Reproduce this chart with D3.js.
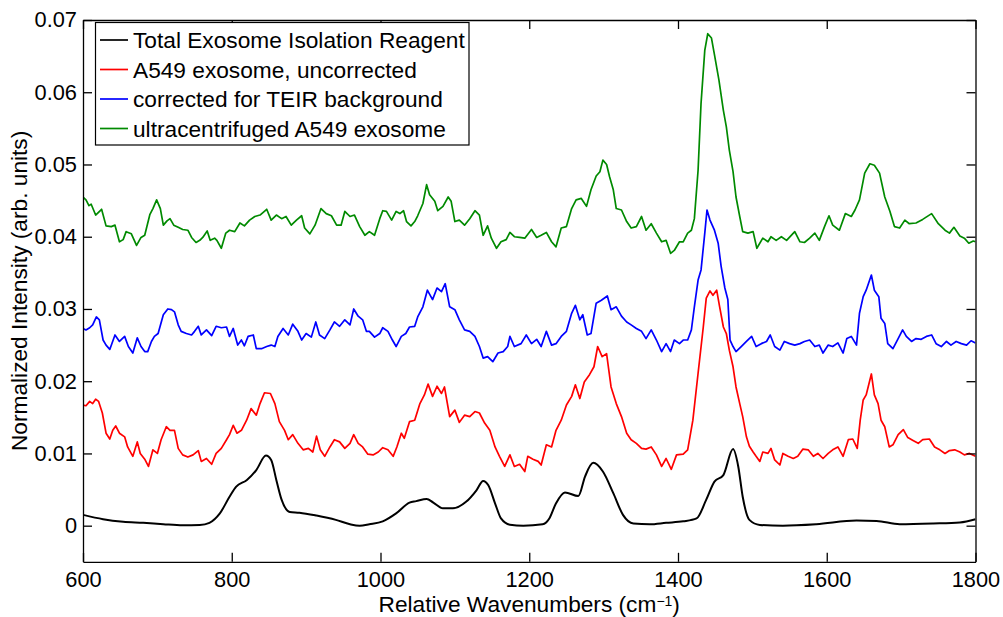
<!DOCTYPE html>
<html>
<head>
<meta charset="utf-8">
<script src="https://cdn.jsdelivr.net/npm/d3@7"></script>
<style>
  body { margin: 0; background: #fff; }
  text { font-family: "Liberation Sans", Arial, Helvetica, sans-serif; }
  .axis text { font-size: 21.8px; fill: #000; }
  .axis path, .axis line { stroke: #000; stroke-width: 1.3; }
</style>
</head>
<body>
<div id="container"></div>
<script>

/* CONSTANTS AND GLOBALS */
const width = 1003,
  height = 617,
  margin = {top: 20, bottom: 55.2, left: 83, right: 27.5},
  tickLen = 9,
  labelSize = "22.7px";

/* DATA : [wavenumber (cm-1), normalized intensity] */
const xTicks = [600, 800, 1000, 1200, 1400, 1600, 1800];
const yTicks = [0, 0.01, 0.02, 0.03, 0.04, 0.05, 0.06, 0.07];
const seriesNames = ["Total Exosome Isolation Reagent", "A549 exosome, uncorrected",
  "corrected for TEIR background", "ultracentrifuged A549 exosome"];
const seriesColors = ["#000000", "#ff0000", "#0000ff", "#008a00"];

const teir = [[600,0.0015],[627,0.0009],[654,0.00055],[681,0.0004],[708,0.0002],[734,0.00005],[757,0.0001],[770,0.0004],[784,0.0017],[797,0.004],[806,0.0054],[820,0.0063],[833,0.0077],[846,0.0097],[853,0.0091],[860,0.0063],[867,0.0036],[878,0.0019],[891,0.0018],[914,0.0014],[940,0.0008],[959,0.0002],[972,0.0],[985,0.0002],[1003,0.0006],[1021,0.0017],[1039,0.0032],[1048,0.0034],[1062,0.0037],[1071,0.0032],[1084,0.0024],[1097,0.0024],[1115,0.0033],[1129,0.0049],[1138,0.0062],[1145,0.0056],[1154,0.0031],[1162,0.001],[1174,0.00014],[1192,0],[1218,0.0002],[1227,0.001],[1236,0.0031],[1248,0.0046],[1266,0.0041],[1275,0.0068],[1286,0.0087],[1299,0.0075],[1313,0.0045],[1326,0.0015],[1340,0.0003],[1362,0.0002],[1384,0.0004],[1407,0.0006],[1425,0.001],[1438,0.0036],[1449,0.0061],[1461,0.007],[1474,0.0106],[1481,0.0082],[1487,0.004],[1496,0.0008],[1510,0.0001],[1541,0],[1586,0.0002],[1640,0.0007],[1667,0.00065],[1698,0.0002],[1743,0.0003],[1779,0.00045],[1800,0.0009]];

const uncorrected = [[600,0.0167],[604,0.0166],[609,0.0172],[613,0.0169],[617,0.0175],[621,0.0172],[626,0.0156],[631,0.0128],[636,0.012],[640,0.0132],[644,0.0138],[649,0.0128],[656,0.0123],[660,0.0109],[667,0.0096],[673,0.0116],[677,0.01],[683,0.0092],[688,0.0082],[694,0.0105],[700,0.01],[705,0.0119],[712,0.0137],[717,0.0132],[723,0.0132],[728,0.0107],[734,0.0098],[741,0.0095],[748,0.0098],[755,0.0104],[759,0.0089],[766,0.0093],[773,0.0085],[779,0.01],[786,0.0107],[793,0.0119],[797,0.0126],[802,0.0139],[807,0.0128],[813,0.0132],[820,0.0146],[826,0.0162],[833,0.0153],[838,0.0169],[844,0.0184],[852,0.0183],[858,0.0169],[864,0.0144],[871,0.0132],[876,0.0119],[882,0.0126],[889,0.0114],[896,0.0105],[903,0.0107],[909,0.0102],[914,0.0124],[919,0.0105],[925,0.0096],[932,0.0109],[938,0.0119],[945,0.0116],[952,0.0107],[959,0.0114],[964,0.0126],[970,0.0114],[976,0.0109],[983,0.0099],[990,0.0098],[997,0.0102],
  [1003,0.0108],[1010,0.0105],[1017,0.0096],[1022,0.0109],[1028,0.0128],[1032,0.0121],[1039,0.0144],[1046,0.0146],[1053,0.0169],[1059,0.0181],[1064,0.0196],[1070,0.0179],[1076,0.0193],[1082,0.0183],[1086,0.0192],[1093,0.0151],[1100,0.016],[1106,0.0143],[1113,0.0153],[1120,0.0151],[1127,0.0158],[1133,0.0156],[1140,0.0142],[1147,0.0132],[1154,0.0109],[1160,0.0096],[1167,0.0082],[1174,0.0098],[1180,0.0082],[1187,0.0085],[1194,0.0075],[1198,0.0096],[1205,0.0092],[1212,0.0089],[1216,0.0084],[1223,0.0112],[1230,0.0109],[1236,0.0132],[1243,0.0146],[1250,0.0167],[1257,0.0179],[1262,0.0195],[1268,0.0176],[1274,0.0199],[1281,0.0209],[1287,0.022],[1292,0.0248],[1298,0.0234],[1304,0.0238],[1310,0.0192],[1317,0.0169],[1324,0.0151],[1331,0.0128],[1337,0.0119],[1344,0.0114],[1351,0.0107],[1357,0.0106],[1364,0.0109],[1371,0.0098],[1378,0.0082],[1384,0.0093],[1391,0.0078],[1398,0.0098],
  [1407,0.0099],[1413,0.0105],[1420,0.0146],[1427,0.0211],[1434,0.0275],[1438,0.0315],[1443,0.0325],[1447,0.0319],[1452,0.0326],[1456,0.0303],[1461,0.0275],[1465,0.0266],[1469,0.0243],[1474,0.022],[1478,0.0192],[1483,0.0169],[1487,0.0151],[1492,0.0123],[1496,0.011],[1501,0.0102],[1505,0.0096],[1510,0.0089],[1514,0.0102],[1521,0.01],[1525,0.0107],[1530,0.0091],[1537,0.0084],[1541,0.01],[1548,0.0096],[1555,0.0093],[1561,0.0096],[1568,0.0106],[1575,0.0105],[1582,0.0096],[1588,0.01],[1595,0.0093],[1602,0.01],[1608,0.0105],[1615,0.0109],[1622,0.0096],[1629,0.0119],[1635,0.012],[1641,0.0107],[1645,0.0146],[1649,0.0174],[1653,0.0181],[1660,0.021],[1664,0.0181],[1669,0.0169],[1673,0.0146],[1678,0.0137],[1684,0.0109],[1689,0.0112],[1696,0.0126],[1703,0.0133],[1709,0.0122],[1716,0.0118],[1723,0.0114],[1729,0.0119],[1738,0.012],[1745,0.0109],[1752,0.0105],[1759,0.01],[1765,0.0104],[1772,0.0105],[1779,0.0102],[1785,0.0098],[1792,0.01],[1800,0.0096]];

const corrected = [[600,0.0273],[604,0.0271],[609,0.0274],[613,0.0278],[618,0.0289],[622,0.0285],[627,0.0257],[631,0.025],[636,0.0244],[643,0.0264],[649,0.0255],[656,0.0262],[661,0.0248],[667,0.0239],[673,0.026],[678,0.0248],[683,0.0241],[687,0.0241],[692,0.0255],[696,0.0262],[701,0.0266],[708,0.0292],[714,0.03],[719,0.0299],[723,0.0296],[728,0.0278],[732,0.0269],[739,0.0266],[746,0.0264],[750,0.0269],[755,0.0276],[759,0.0264],[766,0.0271],[773,0.0263],[779,0.0276],[786,0.0274],[793,0.0275],[797,0.0262],[802,0.0273],[808,0.025],[813,0.0257],[817,0.0249],[822,0.0262],[829,0.0264],[833,0.0245],[840,0.0245],[847,0.0248],[853,0.025],[858,0.0248],[862,0.0262],[869,0.0273],[876,0.0264],[882,0.0279],[889,0.0269],[894,0.0257],[900,0.0266],[907,0.0261],[913,0.0282],[918,0.0264],[925,0.0259],[932,0.0271],[938,0.0282],[945,0.0276],[952,0.0285],[959,0.0278],[964,0.03],[970,0.029],[976,0.0285],[981,0.0269],[985,0.0269],[992,0.0261],[999,0.0266],
  [1003,0.0274],[1010,0.0269],[1016,0.0257],[1021,0.0248],[1028,0.0262],[1034,0.0266],[1039,0.0275],[1046,0.0276],[1050,0.0289],[1057,0.0303],[1063,0.0326],[1070,0.0313],[1076,0.0329],[1082,0.0324],[1087,0.0335],[1093,0.0303],[1100,0.0299],[1106,0.0285],[1113,0.0271],[1120,0.0269],[1127,0.0262],[1133,0.0248],[1138,0.0232],[1144,0.0234],[1151,0.0227],[1158,0.0239],[1165,0.0241],[1171,0.0248],[1174,0.0262],[1180,0.0248],[1189,0.0252],[1196,0.0264],[1203,0.0252],[1210,0.0258],[1216,0.0248],[1223,0.0269],[1230,0.025],[1236,0.0252],[1243,0.0262],[1250,0.0269],[1257,0.0294],[1262,0.0305],[1268,0.0285],[1272,0.0292],[1278,0.0264],[1283,0.0266],[1290,0.0308],[1297,0.0312],[1305,0.0318],[1310,0.0299],[1317,0.0303],[1324,0.029],[1331,0.0282],[1337,0.0278],[1344,0.0273],[1351,0.0269],[1357,0.0259],[1364,0.0271],[1371,0.0257],[1378,0.0241],[1384,0.0252],[1390,0.0241],[1395,0.0257],[1402,0.0252],
  [1407,0.0257],[1413,0.0257],[1418,0.0271],[1422,0.0303],[1427,0.034],[1431,0.0354],[1436,0.0405],[1439,0.0437],[1443,0.0423],[1446,0.0416],[1449,0.0409],[1454,0.0391],[1458,0.0359],[1463,0.0329],[1467,0.0313],[1470,0.0257],[1474,0.0248],[1478,0.0241],[1485,0.0248],[1492,0.0255],[1499,0.0262],[1505,0.0248],[1512,0.0252],[1519,0.0255],[1524,0.0264],[1530,0.0248],[1537,0.0243],[1543,0.0255],[1550,0.0252],[1557,0.025],[1564,0.0252],[1570,0.0255],[1577,0.0257],[1584,0.0248],[1590,0.025],[1595,0.0239],[1602,0.025],[1608,0.0248],[1615,0.0253],[1622,0.0239],[1627,0.0259],[1633,0.0262],[1640,0.025],[1644,0.0294],[1649,0.0317],[1653,0.0326],[1660,0.0347],[1664,0.0326],[1670,0.0317],[1673,0.0287],[1678,0.028],[1682,0.0252],[1689,0.0245],[1696,0.0259],[1702,0.0271],[1707,0.0262],[1714,0.0255],[1720,0.0259],[1727,0.0258],[1734,0.0262],[1741,0.0264],[1747,0.0252],[1754,0.0248],[1761,0.0255],[1767,0.025],[1774,0.0255],[1781,0.0252],[1788,0.025],[1794,0.0256],[1800,0.0253]];

const ultracentrifuged = [[600,0.0455],[604,0.0451],[608,0.0443],[611,0.0445],[617,0.043],[625,0.0438],[631,0.0415],[638,0.0414],[643,0.0416],[649,0.0393],[654,0.0396],[658,0.0407],[665,0.0404],[672,0.0388],[678,0.0399],[683,0.0402],[690,0.0431],[694,0.0439],[699,0.0451],[704,0.0439],[708,0.0416],[713,0.0422],[717,0.0425],[722,0.0416],[728,0.0413],[734,0.041],[741,0.0409],[746,0.0399],[752,0.0392],[757,0.0395],[761,0.0399],[767,0.0408],[771,0.0395],[777,0.0398],[780,0.0395],[786,0.0384],[792,0.0405],[797,0.0409],[804,0.0407],[811,0.0419],[817,0.0415],[824,0.0423],[831,0.0428],[838,0.043],[847,0.0438],[853,0.0423],[860,0.043],[867,0.0425],[873,0.0428],[880,0.0416],[887,0.0423],[894,0.0429],[898,0.0412],[905,0.0404],[912,0.0416],[920,0.0439],[927,0.0432],[934,0.0429],[941,0.0416],[947,0.0416],[952,0.0435],[959,0.0428],[965,0.043],[972,0.0414],[979,0.0402],[985,0.0407],[992,0.0402],[999,0.0425],
  [1003,0.0436],[1008,0.0435],[1015,0.0423],[1021,0.0435],[1026,0.0432],[1031,0.0436],[1035,0.0421],[1041,0.0415],[1046,0.0421],[1050,0.0429],[1057,0.0446],[1062,0.0472],[1066,0.0458],[1073,0.0449],[1077,0.0436],[1084,0.0442],[1091,0.0455],[1095,0.0449],[1100,0.0421],[1106,0.0423],[1113,0.0416],[1120,0.0425],[1127,0.0436],[1133,0.043],[1138,0.0402],[1144,0.0415],[1149,0.0398],[1156,0.0384],[1162,0.0393],[1169,0.0396],[1174,0.0406],[1180,0.04],[1187,0.0399],[1194,0.0398],[1203,0.041],[1210,0.0399],[1216,0.0402],[1223,0.0406],[1230,0.0393],[1236,0.0386],[1243,0.0412],[1250,0.0414],[1257,0.0439],[1263,0.0451],[1270,0.0453],[1277,0.0442],[1283,0.0465],[1290,0.0484],[1295,0.049],[1299,0.0506],[1304,0.05],[1308,0.0483],[1313,0.0465],[1317,0.0439],[1324,0.0437],[1331,0.0421],[1337,0.0412],[1344,0.0414],[1351,0.0428],[1357,0.0409],[1364,0.0418],[1371,0.0405],[1378,0.0393],[1384,0.0395],[1390,0.0377],[1395,0.0381],[1402,0.0393],
  [1407,0.0393],[1413,0.0405],[1418,0.0409],[1422,0.0425],[1427,0.0492],[1431,0.0585],[1436,0.0658],[1440,0.0681],[1445,0.0675],[1449,0.0652],[1455,0.0617],[1461,0.0575],[1465,0.0552],[1469,0.052],[1474,0.049],[1478,0.0455],[1483,0.0428],[1487,0.0407],[1494,0.0405],[1501,0.0407],[1506,0.0384],[1514,0.0398],[1521,0.0393],[1525,0.04],[1532,0.0395],[1539,0.04],[1546,0.0395],[1557,0.0407],[1564,0.0393],[1570,0.0392],[1577,0.0398],[1584,0.0405],[1590,0.0395],[1597,0.0414],[1603,0.0429],[1608,0.0416],[1617,0.0409],[1625,0.0432],[1633,0.0428],[1638,0.0437],[1644,0.0451],[1651,0.0488],[1658,0.0501],[1664,0.0499],[1671,0.0488],[1678,0.0455],[1685,0.0435],[1691,0.0414],[1698,0.0412],[1705,0.0423],[1711,0.0418],[1720,0.0419],[1729,0.0424],[1741,0.0432],[1750,0.0418],[1759,0.0409],[1765,0.0405],[1771,0.0413],[1779,0.0401],[1785,0.0398],[1791,0.0391],[1797,0.0394],[1800,0.0393]];

const allSeries = [teir, uncorrected, corrected, ultracentrifuged];

/* SCALES */
const xScale = d3.scaleLinear()
  .domain([600, 1800])
  .range([margin.left, width - margin.right]);

const yScale = d3.scaleLinear()
  .domain([-0.005, 0.07])
  .range([height - margin.bottom, margin.top]);

/* HTML ELEMENTS */
const svg = d3.select("#container")
  .append("svg")
  .attr("width", width)
  .attr("height", height);

svg.append("clipPath").attr("id", "plot-clip")
  .append("rect")
  .attr("x", margin.left).attr("y", margin.top)
  .attr("width", width - margin.left - margin.right)
  .attr("height", height - margin.top - margin.bottom);

// lines, black one is smooth, the rest are raw spectra
const lineSmooth = d3.line()
  .x(d => xScale(d[0]))
  .y(d => yScale(d[1]))
  .curve(d3.curveMonotoneX);

const lineRaw = d3.line()
  .x(d => xScale(d[0]))
  .y(d => yScale(d[1]));

svg.append("g")
  .attr("clip-path", "url(#plot-clip)")
  .selectAll("path")
  .data(allSeries)
  .join("path")
  .attr("fill", "none")
  .attr("stroke", (d, i) => seriesColors[i])
  .attr("stroke-width", (d, i) => i === 0 ? 2 : 1.7)
  .attr("stroke-linejoin", "round")
  .attr("d", (d, i) => i === 0 ? lineSmooth(d) : lineRaw(d));

/* AXES (matlab style box, ticks pointing in) */
const yFmt = d => d === 0 ? "0" : d3.format(".2f")(d);

svg.append("g")
  .attr("class", "axis")
  .attr("transform", `translate(0, ${height - margin.bottom})`)
  .call(d3.axisBottom(xScale).tickValues(xTicks).tickSize(-tickLen).tickSizeOuter(0).tickPadding(10).tickFormat(d3.format("d")));

svg.append("g")
  .attr("class", "axis")
  .attr("transform", `translate(0, ${margin.top})`)
  .call(d3.axisTop(xScale).tickValues(xTicks).tickSize(-tickLen).tickSizeOuter(0).tickFormat(""));

svg.append("g")
  .attr("class", "axis")
  .attr("transform", `translate(${margin.left}, 0)`)
  .call(d3.axisLeft(yScale).tickValues(yTicks).tickSize(-tickLen).tickSizeOuter(0).tickPadding(6).tickFormat(yFmt));

svg.append("g")
  .attr("class", "axis")
  .attr("transform", `translate(${width - margin.right}, 0)`)
  .call(d3.axisRight(yScale).tickValues(yTicks).tickSize(-tickLen).tickSizeOuter(0).tickFormat(""));

svg.selectAll(".axis text").attr("font-family", null);

// axis labels
const xLabel = svg.append("text")
  .attr("x", (margin.left + width - margin.right) / 2)
  .attr("y", 612)
  .attr("text-anchor", "middle")
  .style("font-size", labelSize)
  .text("Relative Wavenumbers (cm");
xLabel.append("tspan").attr("dy", -6.5).style("font-size", "14px").text("\u22121");
xLabel.append("tspan").attr("dy", 6.5).text(")");

svg.append("text")
  .attr("transform", `translate(27, ${(margin.top + height - margin.bottom) / 2}) rotate(-90)`)
  .attr("text-anchor", "middle")
  .style("font-size", labelSize)
  .text("Normalized Intensity (arb. units)");

/* LEGEND */
const legend = svg.append("g").attr("class", "legend");

legend.append("rect")
  .attr("x", 95.5).attr("y", 22.5)
  .attr("width", 373.5).attr("height", 122.5)
  .attr("fill", "#fff")
  .attr("stroke", "#000")
  .attr("stroke-width", 1.2);

const rows = legend.selectAll(".row")
  .data(seriesNames)
  .join("g")
  .attr("class", "row")
  .attr("transform", (d, i) => `translate(0, ${40 + i * 29.5})`);

rows.append("line")
  .attr("x1", 100).attr("x2", 128)
  .attr("stroke", (d, i) => seriesColors[i])
  .attr("stroke-width", 1.7);

rows.append("text")
  .attr("x", 133)
  .attr("dy", "0.36em")
  .style("font-size", labelSize)
  .text(d => d);

</script>
</body>
</html>
